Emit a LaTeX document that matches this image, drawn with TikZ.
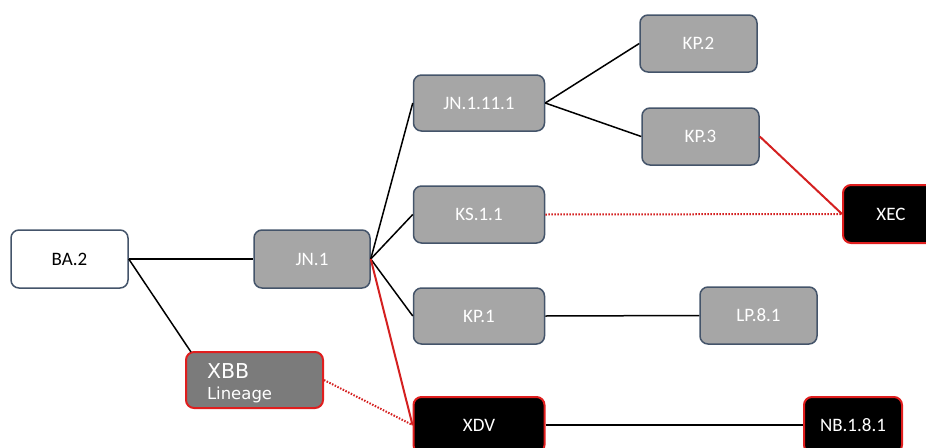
\documentclass[tikz,border=0pt]{standalone}
\usepackage{fontspec}
\setmainfont{Carlito}
\newfontfamily\xbbfont{DejaVu Sans}
\usetikzlibrary{calc}
\definecolor{boxgray}{HTML}{A6A6A6}
\definecolor{edgeblue}{HTML}{44546A}
\definecolor{xbbgray}{HTML}{7B7B7B}
\definecolor{lred}{HTML}{E01E1E}
\definecolor{linered}{HTML}{D42020}
\begin{document}
\begin{tikzpicture}[x=1pt,y=-1pt,font=\fontsize{19}{22}\selectfont,
  basebox/.style={rounded corners=8pt, inner sep=0pt, minimum width=130pt, minimum height=56pt},
  graybox/.style={basebox, draw=edgeblue, fill=boxgray, line width=1.5pt, text=white},
  whitebox/.style={basebox, draw=edgeblue, fill=white, line width=1.5pt, text=black},
  blackbox/.style={basebox, draw=lred, fill=black, line width=2pt, text=white},
  xbbbox/.style={basebox, draw=lred, fill=xbbgray, line width=2pt, text=white},
  link/.style={black, line width=1.5pt},
  redlink/.style={linered, line width=2pt},
  dotlink/.style={linered, line width=2pt, dash pattern=on 1.5pt off 1.5pt}]
\useasboundingbox (0,0) rectangle (926,447);
\clip (0,0) rectangle (926,447);
\node[whitebox, minimum width=117pt, minimum height=58pt] (ba) at (69.5,259) {BA.2};
\node[graybox, minimum width=116pt, minimum height=58pt] (jn1) at (312,259) {JN.1};
\node[graybox, minimum width=131pt, minimum height=56pt] (jn111) at (479,103) {JN.1.11.1};
\node[graybox, minimum width=131pt, minimum height=57pt] (ks) at (479,214.5) {KS.1.1};
\node[graybox, minimum width=131pt, minimum height=56pt] (kp1) at (479,316) {KP.1};
\node[blackbox, minimum width=131pt, minimum height=56pt] (xdv) at (479,425) {XDV};
\node[graybox, minimum width=117pt, minimum height=57pt] (kp2) at (698.5,43.5) {KP.2};
\node[graybox, minimum width=117pt, minimum height=57pt] (kp3) at (700.5,136.5) {KP.3};
\node[blackbox, minimum width=96pt, minimum height=58pt] (xec) at (891,214) {XEC};
\node[graybox, minimum width=117pt, minimum height=57pt] (lp) at (758.5,315.5) {LP.8.1};
\node[blackbox, minimum width=98pt, minimum height=56pt] (nb) at (853,425) {NB.1.8.1};
\node[xbbbox, minimum width=137pt, minimum height=56pt] (xbb) at (254.5,380) {};
\node[text=white, text width=95pt, align=left, inner sep=0pt] (xbbtext) at ($(xbb.center)+(0,3)$)
  {\xbbfont\fontsize{20.5}{20}\selectfont XBB\\[-1pt]\fontsize{16.5}{18}\selectfont Lineage};
\draw[link] (ba.east) -- (jn1.west);
\draw[link] (ba.east) -- ($(xbb.north west)+(6,1)$);
\draw[link] (jn1.east) -- (jn111.west);
\draw[link] (jn1.east) -- (ks.west);
\draw[link] (jn1.east) -- (kp1.west);
\draw[redlink] (jn1.east) -- (xdv.west);
\draw[dotlink] (xbb.east) -- (xdv.west);
\draw[link] (jn111.east) -- (kp2.west);
\draw[link] (jn111.east) -- (kp3.west);
\draw[dotlink] (ks.east) -- (xec.west);
\draw[redlink] (kp3.east) -- (xec.west);
\draw[link] (kp1.east) -- (lp.west);
\draw[link] (xdv.east) -- (nb.west);
\end{tikzpicture}
\end{document}
